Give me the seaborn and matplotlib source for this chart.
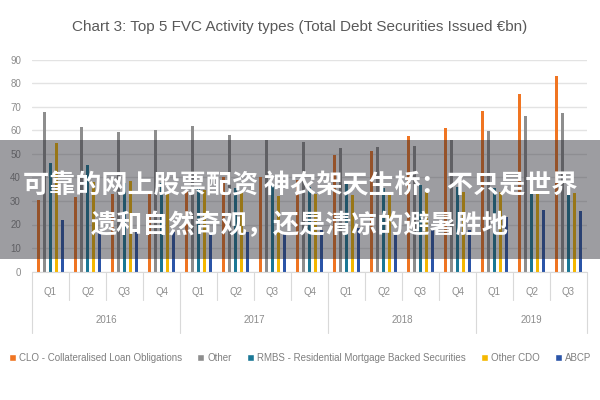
import matplotlib
matplotlib.use("Agg")
import matplotlib.pyplot as plt
import matplotlib.transforms as mtransforms
from matplotlib.patches import Rectangle
import seaborn as sns
import pandas as pd

quarters = ['Q1', 'Q2', 'Q3', 'Q4', 'Q1', 'Q2', 'Q3', 'Q4',
            'Q1', 'Q2', 'Q3', 'Q4', 'Q1', 'Q2', 'Q3']
years = ['2016'] * 4 + ['2017'] * 4 + ['2018'] * 4 + ['2019'] * 3
series_names = ['CLO - Collateralised Loan Obligations', 'Other',
                'RMBS - Residential Mortgage Backed Securities', 'Other CDO', 'ABCP']
clo = [30.5, 31.8, 32.8, 33.5, 34.4, 40, 40, 39, 49.6, 51.4, 57.8, 61.2, 68.3, 75.4, 83.2]
other = [68, 61.6, 59.2, 60, 62, 58, 56, 55, 52.5, 53, 53.2, 56, 59.8, 66.3, 67.6]
rmbs = [46, 45.3, 37.5, 37.5, 35.5, 35.5, 37, 36, 38, 35.5, 36.8, 36, 35.5, 34.7, 34]
other_cdo = [54.7, 38, 38.5, 33, 34.7, 34, 32, 33, 32.5, 32.5, 34, 34, 34, 34, 33.5]
abcp = [22, 17, 17, 17, 17, 17, 17, 17.5, 18.5, 17, 17.7, 17.7, 23, 26, 25.9]
colors = ['#F07522', '#8E8E8E', '#1B7896', '#F5B800', '#2B55A8']
title = 'Chart 3: Top 5 FVC Activity types (Total Debt Securities Issued €bn)'
banner_lines = ['可靠的网上股票配资 神农架天生桥：不只是世界',
                '遗和自然奇观，还是清凉的避暑胜地']

period = [f'{y}-{q}' for y, q in zip(years, quarters)]
rows = []
for name, vals in zip(series_names, [clo, other, rmbs, other_cdo, abcp]):
    for p, v in zip(period, vals):
        rows.append({'period': p, 'series': name, 'value': v})
df = pd.DataFrame(rows)

sns.set_theme(style='white')
narrow = ['Liberation Sans Narrow', 'Liberation Sans', 'DejaVu Sans']
plt.rcParams['font.family'] = narrow

fig = plt.figure(figsize=(6, 4), dpi=100)
ax = fig.add_axes([32 / 600, 1 - 271.5 / 400, 555 / 600, 211.5 / 400])
sns.barplot(data=df, x='period', y='value', hue='series', order=period,
            hue_order=series_names, palette=colors, width=0.8, ax=ax,
            saturation=1, errorbar=None, legend=True)

# thin the bars
for bar in ax.patches:
    w = bar.get_width()
    if w > 0:
        nw = w * 0.62
        bar.set_x(bar.get_x() + (w - nw) / 2)
        bar.set_width(nw)
        bar.set_edgecolor('none')

ax.set_ylim(0, 90)
ax.set_xlim(-0.5, len(period) - 0.5)
ax.set_yticks(range(0, 91, 10))
ax.tick_params(axis='y', labelsize=7, colors='#8C8C8C', length=0, pad=8)
ax.yaxis.grid(True, color='#E3E3E3', linewidth=1)
ax.set_axisbelow(True)
for s in ax.spines.values():
    s.set_visible(False)
ax.set_xlabel('')
ax.set_ylabel('')
ax.set_xticks(range(len(period)))
ax.set_xticklabels(quarters)
ax.tick_params(axis='x', labelsize=7, colors='#8C8C8C', length=0, pad=11)

trans = mtransforms.blended_transform_factory(ax.transData, ax.transAxes)
# separators
for i in range(len(period) + 1):
    xb = i - 0.5
    is_year = (i == 0) or (i == len(period)) or (years[i] != years[i - 1])
    ybot = -0.29 if is_year else -0.135
    ax.plot([xb, xb], [0, ybot], transform=trans, color='#D9D9D9',
            linewidth=0.8, clip_on=False)
ax.plot([-0.5, len(period) - 0.5], [0, 0], transform=trans, color='#D9D9D9',
        linewidth=0.8, clip_on=False)
# year labels
uniq = []
for y in years:
    if y not in uniq:
        uniq.append(y)
for y in uniq:
    idx = [i for i, yy in enumerate(years) if yy == y]
    xc = (idx[0] + idx[-1]) / 2
    ax.text(xc, -0.228, y, transform=trans, ha='center', va='center',
            fontsize=7, color='#8C8C8C')

# legend
handles, labels = ax.get_legend_handles_labels()
ax.legend_.remove()
fig.legend(handles, labels, loc='center', bbox_to_anchor=(0.5, 1 - 358 / 400),
           ncol=5, frameon=False, fontsize=7, handlelength=0.7, handleheight=0.7,
           handletextpad=0.3, columnspacing=1.6, labelcolor='#7F7F7F')

fig.text(0.5, 1 - 27 / 400, title, ha='center', va='center', fontsize=11,
         color='#595959')

# overlay banner
fig.patches.append(Rectangle((0, 1 - 259 / 400), 1, 119 / 400,
                             transform=fig.transFigure, facecolor='#2A2A33',
                             alpha=0.46, edgecolor='none', zorder=10))
cjk = ['Noto Sans CJK SC', 'DejaVu Sans']
fig.text(0.5, 1 - 186 / 400, banner_lines[0], ha='center', va='center',
         fontsize=18.8, color='white', fontweight='bold', family=cjk, zorder=11)
fig.text(0.5, 1 - 226 / 400, banner_lines[1], ha='center', va='center',
         fontsize=18.8, color='white', fontweight='bold', family=cjk, zorder=11)

fig.savefig('out.png', dpi=100)
